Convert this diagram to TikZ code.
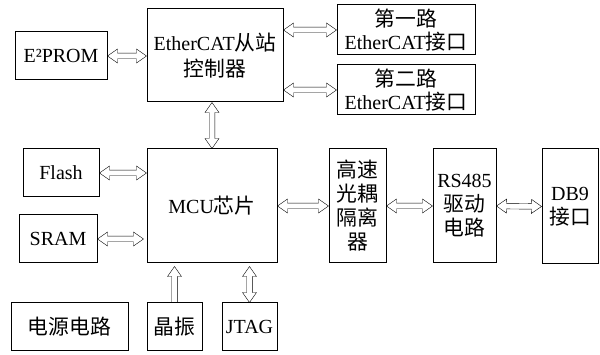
\documentclass[tikz,border=0pt]{standalone}
\usepackage{fontspec}
\setmainfont{Liberation Serif}
\newfontfamily\cjk[Scale=1.04]{Noto Sans CJK SC}
\usetikzlibrary{calc}
\def\hl{10pt}
\def\hw{7pt}
\def\sw{2.8pt}
\tikzset{
  box/.style={draw, line width=1pt, align=center, inner sep=0pt,
    font=\fontsize{20}{24}\selectfont},
  dbl/.style={line width=0.8pt, line join=miter, to path={
    (\tikztostart)
    -- ($(\tikztostart)!\hl!(\tikztotarget)!\hw!90:(\tikztotarget)$)
    -- ($(\tikztostart)!\hl!(\tikztotarget)!\sw!90:(\tikztotarget)$)
    -- ($(\tikztotarget)!\hl!(\tikztostart)!\sw!-90:(\tikztostart)$)
    -- ($(\tikztotarget)!\hl!(\tikztostart)!\hw!-90:(\tikztostart)$)
    -- (\tikztotarget)
    -- ($(\tikztotarget)!\hl!(\tikztostart)!\hw!90:(\tikztostart)$)
    -- ($(\tikztotarget)!\hl!(\tikztostart)!\sw!90:(\tikztostart)$)
    -- ($(\tikztostart)!\hl!(\tikztotarget)!\sw!-90:(\tikztotarget)$)
    -- ($(\tikztostart)!\hl!(\tikztotarget)!\hw!-90:(\tikztotarget)$)
    -- cycle}},
  sgl/.style={line width=0.8pt, line join=miter, to path={
    ($(\tikztostart)!\sw!-90:(\tikztotarget)$)
    -- ($(\tikztotarget)!\hl!(\tikztostart)!\sw!90:(\tikztostart)$)
    -- ($(\tikztotarget)!\hl!(\tikztostart)!\hw!90:(\tikztostart)$)
    -- (\tikztotarget)
    -- ($(\tikztotarget)!\hl!(\tikztostart)!\hw!-90:(\tikztostart)$)
    -- ($(\tikztotarget)!\hl!(\tikztostart)!\sw!-90:(\tikztostart)$)
    -- ($(\tikztostart)!\sw!90:(\tikztotarget)$)}}
}
\begin{document}
\begin{tikzpicture}[x=1pt,y=-1pt]
\useasboundingbox (0,0) rectangle (600,355);
\node[box, minimum width=92pt, minimum height=48pt] (e2p) at (61,56) {E²PROM};
\node[box, minimum width=136pt, minimum height=93pt, font=\fontsize{20}{25.5}\selectfont] (ec) at (215,55.5) {EtherCAT{\cjk 从站}\\{\cjk 控制器}};
\node[box, minimum width=138pt, minimum height=50pt, font=\fontsize{20}{22.5}\selectfont] (if1) at (406,30) {{\cjk 第一路}\\EtherCAT{\cjk 接口}};
\node[box, minimum width=138pt, minimum height=50pt, font=\fontsize{20}{22.5}\selectfont] (if2) at (406,90) {{\cjk 第二路}\\EtherCAT{\cjk 接口}};
\node[box, minimum width=76pt, minimum height=48pt] (flash) at (61,173) {Flash};
\node[box, minimum width=78pt, minimum height=48pt] (sram) at (58,239) {SRAM};
\node[box, minimum width=130pt, minimum height=114pt] (mcu) at (212,206) {MCU{\cjk 芯片}};
\node[box, minimum width=117pt, minimum height=48pt] (power) at (69.5,327) {{\cjk 电源电路}};
\node[box, minimum width=55pt, minimum height=48pt] (xtal) at (174.5,327) {{\cjk 晶振}};
\node[box, minimum width=55pt, minimum height=48pt] (jtag) at (249.5,327) {JTAG};
\node[box, minimum width=57pt, minimum height=114pt] (opto) at (357.5,206) {{\cjk 高速}\\{\cjk 光耦}\\{\cjk 隔离}\\{\cjk 器}};
\node[box, minimum width=63pt, minimum height=114pt] (rs) at (464.5,206) {RS485\\{\cjk 驱动}\\{\cjk 电路}};
\node[box, minimum width=56pt, minimum height=115pt] (db9) at (570,206.5) {DB9\\{\cjk 接口}};

\coordinate (sramend) at ($(mcu.west |- sram.east)+(-3,0)$);
\coordinate (xtalend) at ($(mcu.south -| xtal.north)+(0,3)$);
\coordinate (jtagend) at ($(mcu.south -| jtag.north)+(0,3)$);

\draw (e2p.east) to[dbl] (ec.west |- e2p.east);
\draw (ec.east |- if1.west) to[dbl] (if1.west);
\draw (ec.east |- if2.west) to[dbl] (if2.west);
\draw (mcu.north) to[dbl] (ec.south -| mcu.north);
\draw (flash.east) to[dbl] (mcu.west |- flash.east);
\draw (sram.east) to[dbl] (sramend);
\draw (mcu.east) to[dbl] (opto.west);
\draw (opto.east) to[dbl] (rs.west);
\draw (rs.east) to[dbl] (db9.west);
\draw (xtal.north) to[sgl] (xtalend);
\draw (jtag.north) to[dbl] (jtagend);
\end{tikzpicture}
\end{document}
